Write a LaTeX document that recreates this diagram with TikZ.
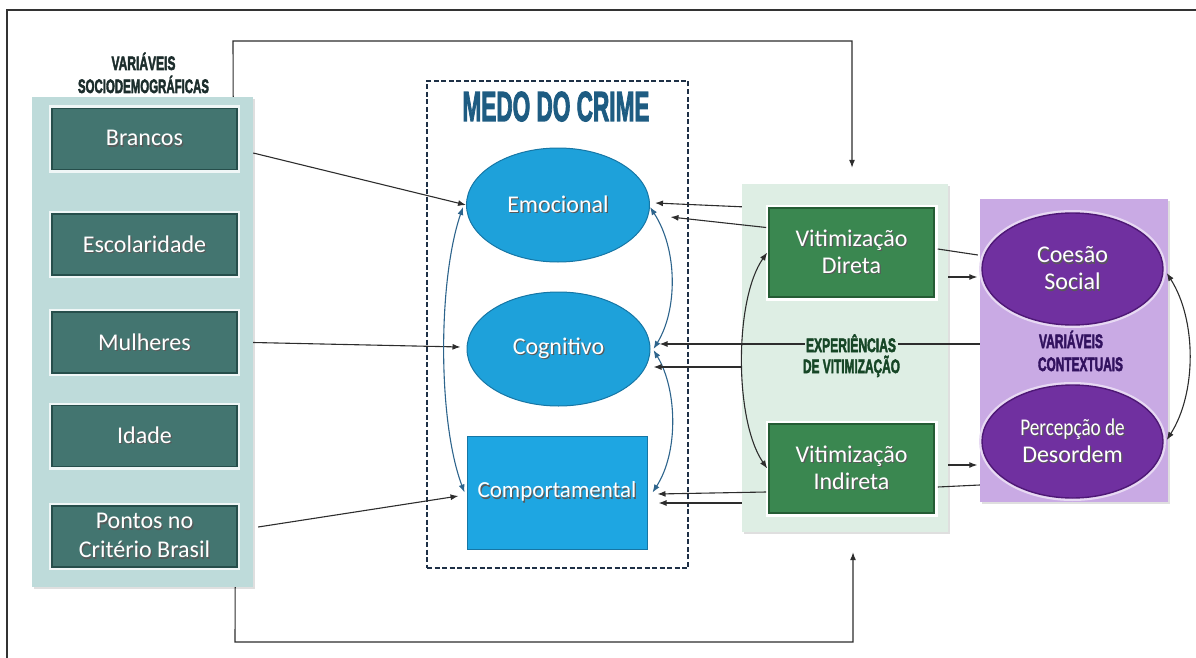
\documentclass[tikz,border=0pt]{standalone}
\usepackage{fontspec}
\setmainfont{Carlito}
\newfontfamily\cond[FakeBold=3]{Liberation Sans}
\usetikzlibrary{arrows.meta,calc,shapes.geometric,shadows}
\definecolor{lpcol}{RGB}{190,219,218}
\definecolor{dbox}{RGB}{67,117,112}
\definecolor{dboxd}{RGB}{38,78,75}
\definecolor{ebl}{RGB}{30,161,218}
\definecolor{ebld}{RGB}{22,118,165}
\definecolor{compcol}{RGB}{30,166,226}
\definecolor{gpcol}{RGB}{222,238,228}
\definecolor{gbox}{RGB}{58,135,80}
\definecolor{gboxd}{RGB}{36,92,52}
\definecolor{ppcol}{RGB}{201,170,228}
\definecolor{pell}{RGB}{112,48,160}
\definecolor{pelld}{RGB}{78,24,118}
\definecolor{crv}{RGB}{45,100,140}
\definecolor{lnc}{RGB}{45,45,45}
\definecolor{medo}{RGB}{30,92,130}
\definecolor{dashc}{RGB}{30,48,70}
\definecolor{sdt}{RGB}{28,45,44}
\definecolor{expt}{RGB}{22,70,38}
\definecolor{ctxt}{RGB}{50,18,95}
\newcommand\sh[1]{\makebox[0pt][l]{\hspace{1.2pt}\raisebox{-1.3pt}{\textcolor{black!65}{#1}}}#1}
\newcommand\ttxt[3]{\resizebox{#1}{\height}{\cond\bfseries\fontsize{#2}{#2}\selectfont #3}}
\begin{document}
\begin{tikzpicture}[x=1pt,y=-1pt,
  arr/.style={draw=lnc,line width=1.1pt,-{Latex[length=8pt,width=6pt]}},
  plain/.style={draw=lnc,line width=1.1pt},
  curv/.style={draw=crv,line width=1.1pt,{Latex[length=8pt,width=6pt]}-{Latex[length=8pt,width=6pt]}},
  curvk/.style={draw=lnc,line width=1.1pt,{Latex[length=8pt,width=6pt]}-{Latex[length=8pt,width=6pt]}},
  panel/.style={rectangle,inner sep=0pt,drop shadow={shadow xshift=2pt,shadow yshift=-2pt,opacity=0.25}},
  btxt/.style={text=white,font=\fontsize{24}{27}\selectfont,align=center},
  dkbox/.style={rectangle,inner sep=0pt,fill=dbox,draw=dboxd,line width=1.6pt,
    preaction={draw=white!75!lpcol,line width=6pt},minimum width=185,minimum height=61,btxt},
  gbx/.style={rectangle,inner sep=0pt,fill=gbox,draw=gboxd,line width=1.6pt,
    preaction={draw=white,line width=7pt},minimum width=165,minimum height=89,btxt},
  bell/.style={ellipse,inner sep=0pt,fill=ebl,draw=ebld,line width=1pt,minimum width=183,minimum height=114,btxt},
  pel/.style={ellipse,inner sep=0pt,fill=pell,draw=pelld,line width=1.4pt,
    preaction={draw=white!55!ppcol,line width=6pt},minimum width=181,minimum height=112,btxt},
  ttl/.style={inner sep=0pt,anchor=base}
]
\useasboundingbox (0,0) rectangle (1196,658);
% outer frame
\draw[line width=1.6pt,draw=black!80] (7,658) -- (7,10) -- (1196,10);

% panels
\node[panel,fill=lpcol,minimum width=221,minimum height=490] (lp) at (142.5,342) {};
\node[panel,fill=gpcol,minimum width=206,minimum height=348] (gp) at (845,358) {};
\node[panel,fill=ppcol,minimum width=188,minimum height=303] (pp) at (1074,350.5) {};
\node[rectangle,draw=dashc,dash pattern=on 5pt off 2.5pt,line width=1.3pt,
  minimum width=261,minimum height=487,inner sep=0pt] (mc) at (557.5,324.5) {};

% loops
\draw[arr] ([xshift=-20pt]lp.north east) -- (233,41) -- (852,41) -- ([xshift=7pt,yshift=16pt]gp.north);
\draw[arr] ([xshift=-18pt]lp.south east) -- (235,642) -- (853,642) -- ([xshift=8pt,yshift=-20pt]gp.south);

% left boxes
\node[dkbox] (bra) at (144.5,139) {\sh{Brancos}};
\node[dkbox] (esc) at (144.5,244.5) {\sh{Escolaridade}};
\node[dkbox] (mul) at (144.5,342.5) {\sh{Mulheres}};
\node[dkbox] (ida) at (144.5,436) {\sh{Idade}};
\node[dkbox,font=\fontsize{24}{29}\selectfont] (pon) at (144.5,536.5) {\sh{Pontos no}\\\sh{Critério Brasil}};

% medo do crime
\node[bell] (emo) at (558,205) {\sh{Emocional}};
\node[bell] (cog) at (558.5,349) {\sh{Cognitivo}};
\node[rectangle,inner sep=0pt,fill=compcol,draw=ebld,line width=1pt,minimum width=180,minimum height=113,btxt,
  font=\fontsize{23}{27}\selectfont] (comp) at (557,492.5) {\sh{Comportamental}};

% victimization
\node[gbx] (dir) at (851.5,252.5) {\sh{Vitimização}\\\sh{Direta}};
\node[gbx] (ind) at (851.5,468.5) {\sh{Vitimização}\\\sh{Indireta}};

% contextual
\node[pel] (coe) at (1072.5,269) {\sh{Coesão}\\\sh{Social}};
\node[pel,minimum height=113] (per) at (1072.5,441.5) {\sh{\scalebox{0.8}[1]{Percepção de}}\\\sh{Desordem}};

% connectors from left
\draw[arr] ($(lp.east |- bra)+(0,14)$) -- (emo.west);
\draw[arr] ($(lp.east |- mul)+(0,0)$) -- ($(cog.west)+(-6,-2)$);
\draw[arr] ($(lp.east |- pon)+(5,-9.5)$) -- ($(comp.west)+(-8,3.5)$);

% curves
\draw[curv] ($(emo.west)+(-3,2)$) .. controls +(-25,73) and +(-27,-72) .. ($(comp.west)+(-2,0)$);
\draw[curv] ($(emo.east)+(0,2)$) .. controls +(28,43) and +(24,-39) .. ($(cog.east)+(3,0)$);
\draw[curv] ($(cog.east)+(3,1)$) .. controls +(24,40) and +(26,-40) .. ($(comp.east)+(5,0)$);
\draw[curvk] ($(dir.west)+(-1,0)$) .. controls +(-33,47) and +(-33,-48) .. ($(ind.west)+(-1,0)$);
\draw[curvk] ($(coe.east)+(3,4)$) .. controls +(30,47) and +(30,-47) .. ($(per.east)+(3,-1.5)$);

% connectors into medo do crime
\draw[arr] ($(gp.north west)+(0,23)$) -- ($(emo.east)+(5,-2)$);
\draw[arr] ($(dir.west)+(-2,-25)$) -- ($(emo.east)+(20.5,12)$);
\draw[arr] ($(pp.west |- cog)+(0,-5)$) -- ($(cog.east)+(9,-5)$);
\draw[arr] ($(gp.west |- cog)+(0,18)$) -- ($(cog.east)+(3,18)$);
\draw[arr] ($(ind.west)+(-2,23.5)$) -- ($(comp.east)+(10,1.5)$);
\draw[arr] ($(gp.west |- comp)+(0,10.5)$) -- ($(comp.east)+(11,10.5)$);

% connectors to contextual
\draw[plain] ($(dir.east)+(3,-3.5)$) -- ($(pp.west |- dir)+(-2,2.5)$);
\draw[arr] ($(gp.east |- dir)+(0,24.5)$) -- ($(coe.west)+(-4,8)$);
\draw[arr] ($(gp.east |- ind)+(0,-3.5)$) -- ($(per.west)+(-4,23.5)$);
\draw[plain] ($(ind.east)+(3,18.5)$) -- ($(pp.west |- ind)+(0,16.5)$);

% titles
\node[ttl,text=sdt] (sd1) at (143.5,70) {\ttxt{64pt}{19.5}{VARIÁVEIS}};
\node[ttl,text=sdt] (sd2) at (143.5,93) {\ttxt{131pt}{19.5}{SOCIODEMOGRÁFICAS}};
\node[ttl,text=medo] (mt) at (556,121) {\ttxt{187pt}{42}{MEDO DO CRIME}};
\node[ttl,text=expt,fill=gpcol,inner sep=1.5pt] (ex1) at (851,352) {\ttxt{90pt}{19.5}{EXPERIÊNCIAS}};
\node[ttl,text=expt] (ex2) at (851.5,373) {\ttxt{97pt}{19.5}{DE VITIMIZAÇÃO}};
\node[ttl,text=ctxt] (cx1) at (1071,348) {\ttxt{64pt}{19.5}{VARIÁVEIS}};
\node[ttl,text=ctxt] (cx2) at (1080.5,371) {\ttxt{85pt}{19.5}{CONTEXTUAIS}};
\end{tikzpicture}
\end{document}
